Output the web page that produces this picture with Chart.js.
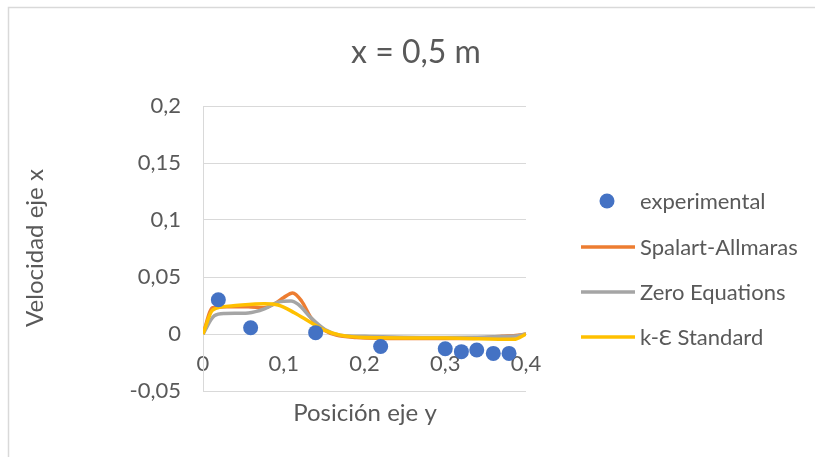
<!DOCTYPE html>
<html>
<head>
<meta charset="utf-8">
<script src="https://cdn.jsdelivr.net/npm/chart.js@4/dist/chart.umd.min.js"></script>
<style>
html,body{margin:0;padding:0;background:#fff;overflow:hidden;}
#wrap{position:relative;width:815px;height:457px;}
</style>
</head>
<body>
<div id="wrap"><canvas id="c" width="815" height="457"></canvas></div>
<script>
const chartTitle = "x = 0,5 m";
const xTitle = "Posición eje y";
const yTitle = "Velocidad eje x";
const seriesNames = ["experimental", "Spalart-Allmaras", "Zero Equations", "k-Ɛ Standard"];
const seriesColors = ["#4472C4", "#ED7D31", "#A5A5A5", "#FFC000"];

const expX = [0.019, 0.059, 0.1395, 0.22, 0.30, 0.32, 0.339, 0.3595, 0.379];
const expY = [0.030, 0.0055, 0.0012, -0.011, -0.013, -0.0155, -0.014, -0.017, -0.017];

const saX = [0, 0.012, 0.03, 0.056, 0.075, 0.09, 0.1, 0.111, 0.122, 0.134, 0.151, 0.165, 0.19, 0.25, 0.33, 0.37, 0.39, 0.4];
const saY = [0, 0.023, 0.024, 0.024, 0.023, 0.027, 0.032, 0.036, 0.029, 0.014, 0.003, -0.001, -0.003, -0.004, -0.004, -0.002, -0.001, 0];

const zeX = [0, 0.014, 0.027, 0.056, 0.076, 0.093, 0.109, 0.118, 0.134, 0.151, 0.17, 0.2, 0.3, 0.388, 0.4];
const zeY = [0, 0.016, 0.018, 0.0185, 0.022, 0.028, 0.029, 0.026, 0.014, 0.004, -0.001, -0.002, -0.003, -0.0018, 0];

const keX = [0, 0.012, 0.035, 0.076, 0.093, 0.113, 0.134, 0.151, 0.17, 0.2, 0.3, 0.385, 0.4];
const keY = [0, 0.021, 0.0246, 0.0266, 0.0254, 0.0187, 0.0099, 0.0032, -0.001, -0.003, -0.0035, -0.0047, 0];

const yTicks = [-0.05, 0, 0.05, 0.1, 0.15, 0.2];
const xTicks = [0, 0.1, 0.2, 0.3, 0.4];

const FONT = "Lato, 'Open Sans', sans-serif";
const TXT = "#595959";

function pts(xs, ys) { return xs.map((x, i) => ({x: x, y: ys[i]})); }
function fmt(v) { return String(Math.round(v * 1000) / 1000).replace('.', ','); }

const extras = {
  id: 'extras',
  beforeDraw(chart) {
    const ctx = chart.ctx;
    ctx.save();
    ctx.strokeStyle = "#d9d9d9";
    ctx.lineWidth = 1.5;
    ctx.beginPath();
    ctx.moveTo(8.5, 460);
    ctx.lineTo(8.5, 7.5);
    ctx.lineTo(820, 7.5);
    ctx.stroke();
    ctx.restore();
  },
  afterDraw(chart) {
    const ctx = chart.ctx;
    ctx.save();
    ctx.fillStyle = TXT;
    ctx.textBaseline = "middle";
    // title
    ctx.font = "32px " + FONT;
    ctx.textAlign = "center";
    ctx.fillText(chartTitle, 416, 53);
    // x title
    ctx.font = "24px " + FONT;
    ctx.fillText(xTitle, 365, 413);
    // y title
    ctx.save();
    ctx.translate(35, 248);
    ctx.rotate(-Math.PI / 2);
    ctx.fillText(yTitle, 0, 0);
    ctx.restore();
    // legend
    const ly = [201, 247, 292, 337];
    ctx.font = "22px " + FONT;
    ctx.textAlign = "left";
    for (let i = 0; i < seriesNames.length; i++) {
      if (i === 0) {
        ctx.beginPath();
        ctx.fillStyle = seriesColors[0];
        ctx.arc(607, ly[i], 7.5, 0, Math.PI * 2);
        ctx.fill();
      } else {
        ctx.beginPath();
        ctx.strokeStyle = seriesColors[i];
        ctx.lineWidth = 3.5;
        ctx.moveTo(581, ly[i]);
        ctx.lineTo(635, ly[i]);
        ctx.stroke();
      }
      ctx.fillStyle = TXT;
      ctx.fillText(seriesNames[i], 640, ly[i] + 1);
    }
    ctx.restore();
  }
};

const lineDs = (i, xs, ys, order) => ({
  label: seriesNames[i],
  data: pts(xs, ys),
  showLine: true,
  borderColor: seriesColors[i],
  backgroundColor: seriesColors[i],
  borderWidth: 3.5,
  pointRadius: 0,
  pointHoverRadius: 0,
  cubicInterpolationMode: 'monotone',
  order: order
});

new Chart(document.getElementById('c'), {
  type: 'scatter',
  data: {
    datasets: [
      {
        label: seriesNames[0],
        data: pts(expX, expY),
        backgroundColor: seriesColors[0],
        borderColor: seriesColors[0],
        pointRadius: 7.5,
        pointHoverRadius: 7.5,
        borderWidth: 0,
        order: 0
      },
      lineDs(1, saX, saY, 3),
      lineDs(2, zeX, zeY, 2),
      lineDs(3, keX, keY, 1)
    ]
  },
  options: {
    responsive: false,
    animation: false,
    events: [],
    layout: { padding: { left: 0, right: 289, top: 106, bottom: 66 } },
    plugins: { legend: { display: false }, title: { display: false }, tooltip: { enabled: false } },
    scales: {
      x: {
        type: 'linear',
        min: 0, max: 0.4,
        position: { y: 0 },
        afterBuildTicks: s => { s.ticks = xTicks.map(v => ({value: v})); },
        ticks: { callback: v => fmt(v), color: TXT, font: { size: 22, family: FONT }, padding: 17, maxRotation: 0, autoSkip: false },
        grid: { display: false, drawTicks: false },
        border: { display: true, color: "#d9d9d9", width: 1 }
      },
      y: {
        type: 'linear',
        min: -0.05, max: 0.2,
        afterBuildTicks: s => { s.ticks = yTicks.map(v => ({value: v})); },
        afterFit: s => { s.width = 203; },
        ticks: { callback: v => fmt(v), color: TXT, font: { size: 22, family: FONT }, padding: 22, autoSkip: false },
        grid: { color: "#d9d9d9", lineWidth: 1, drawTicks: false },
        border: { display: true, color: "#d9d9d9", width: 1 }
      }
    }
  },
  plugins: [extras]
});
</script>
</body>
</html>
